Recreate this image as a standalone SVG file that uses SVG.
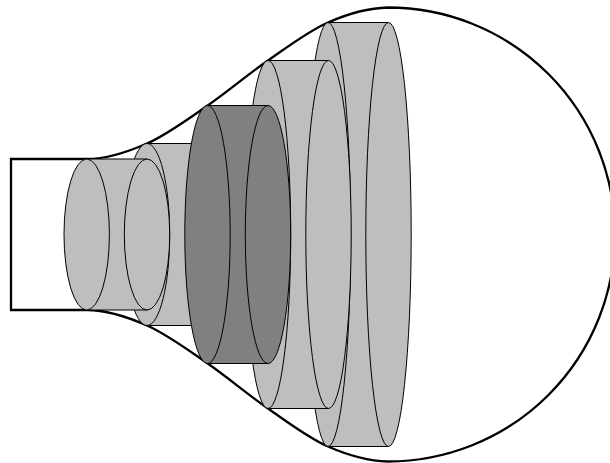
<svg xmlns="http://www.w3.org/2000/svg" width="610" height="463" viewBox="0 0 610 463">
<style>
.light{fill:#bebebe}
.dark{fill:#808080}
.cyl *{stroke:#000;stroke-width:1}
.outline{fill:none;stroke:#000;stroke-width:2.3}
</style>
<rect width="610" height="463" fill="#fff"/>
<g id="connectors">
<path class="outline" d="M87,159 H11 V310 H87 C107,310 127,316.7 147,325.5 C167,334.3 187,349.3 207,363 C227,376.7 248,394.7 268,408.5 C288,422.3 308,437.7 328,446.5 C348,455.3 368,461 388,461.5 A227,227 0 0 0 388,7.5 C368,8 348,13.7 328,22.5 C308,31.3 288,46.7 268,60.5 C248,74.3 227,92.3 207,106 C187,119.7 167,134.7 147,143.5 C127,152.3 107,159 87,159 Z"/>
</g>
<g id="cylinder5" class="cyl light">
<path d="M328,22.5 H388.5 V446.5 H328 Z"/>
<ellipse cx="328" cy="234.5" rx="22.7" ry="212"/>
<ellipse cx="388.5" cy="234.5" rx="22.7" ry="212"/>
</g>
<g id="cylinder4" class="cyl light">
<path d="M268,60.5 H328.5 V408.5 H268 Z"/>
<ellipse cx="268" cy="234.5" rx="22.7" ry="174"/>
<ellipse cx="328.5" cy="234.5" rx="22.7" ry="174"/>
</g>
<g id="cylinder2" class="cyl light">
<path d="M147,143.500 H207 V325.500 H147 Z"/>
<ellipse cx="147" cy="234.500" rx="22.700" ry="91"/>
</g>
<g id="cylinder3" class="cyl dark">
<path d="M207.500,105.500 H268 V363.500 H207.500 Z"/>
<ellipse cx="207.500" cy="234.500" rx="22.700" ry="129"/>
<ellipse cx="268" cy="234.500" rx="22.700" ry="129"/>
</g>
<g id="cylinder1" class="cyl light">
<path d="M86.700,159 H147 V310 H86.700 Z"/>
<ellipse cx="86.700" cy="234.500" rx="22.700" ry="75.500"/>
<ellipse cx="147" cy="234.500" rx="22.700" ry="75.500"/>
</g>
</svg>
